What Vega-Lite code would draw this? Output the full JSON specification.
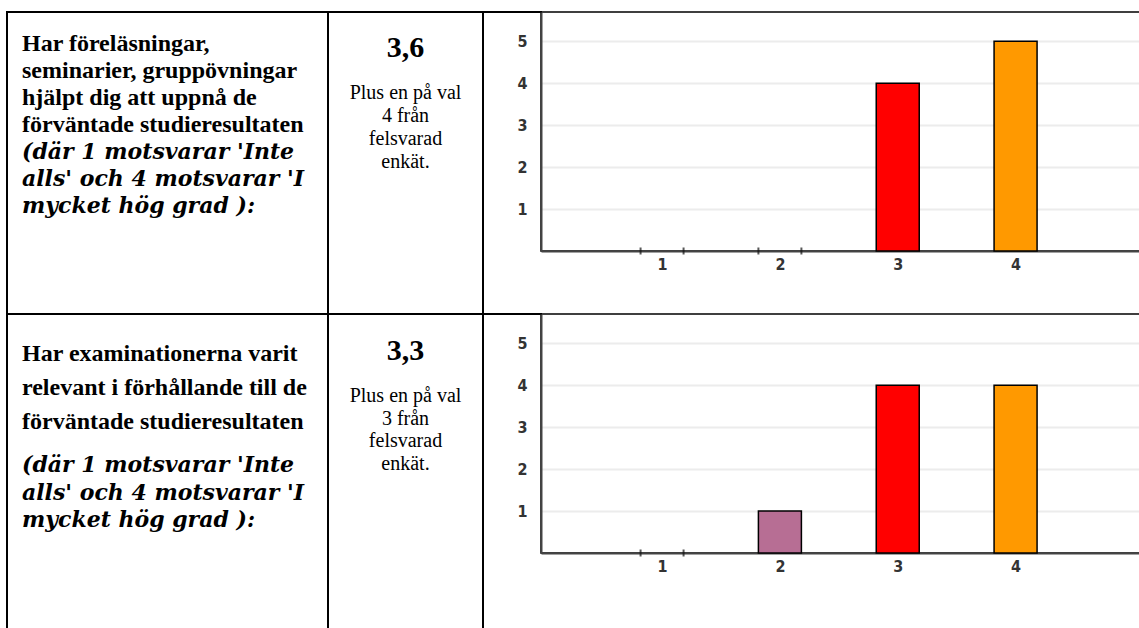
{
  "$schema": "https://vega.github.io/schema/vega-lite/v6.json",
  "padding": {"left": 6, "top": 11, "right": 0, "bottom": 0},
  "background": "white",
  "columns": 4,
  "spacing": 0,
  "bounds": "flush",
  "config": {
    "view": {"stroke": "black", "strokeWidth": 2},
    "axis": {
      "domainColor": "#444", "domainWidth": 2, "ticks": false, "tickSize": 0, "title": null,
      "labelFlush": false, "labelFont": "Liberation Sans Narrow, DejaVu Sans Condensed, sans-serif",
      "labelFontSize": 16, "labelFontWeight": "bold", "labelColor": "#333"
    }
  },
  "concat": [
    {
      "width": 321,
      "height": 302,
      "data": {"values": [
        {"line": 1, "block": "fraga", "text": "Har föreläsningar,"},
        {"line": 2, "block": "fraga", "text": "seminarier, gruppövningar"},
        {"line": 3, "block": "fraga", "text": "hjälpt dig att uppnå de"},
        {"line": 4, "block": "fraga", "text": "förväntade studieresultaten"},
        {"line": 5, "block": "skala", "text": "(där 1 motsvarar 'Inte"},
        {"line": 6, "block": "skala", "text": "alls' och 4 motsvarar 'I"},
        {"line": 7, "block": "skala", "text": "mycket hög grad ):"}
      ]},
      "encoding": {
        "x": {"datum": 0, "type": "quantitative", "scale": {"domain": [0, 1], "range": [15, 321]}, "axis": null},
        "y": {"field": "line", "type": "quantitative", "scale": {"domain": [1, 7], "range": [39, 201], "zero": false, "nice": false}, "axis": null},
        "text": {"field": "text"}
      },
      "layer": [
        {"transform": [{"filter": "datum.block === 'fraga'"}],
         "mark": {"type": "text", "align": "left", "baseline": "alphabetic", "font": "Liberation Serif", "fontSize": 24, "fontWeight": "bold", "color": "black"}},
        {"transform": [{"filter": "datum.block === 'skala'"}],
         "mark": {"type": "text", "align": "left", "baseline": "alphabetic", "font": "DejaVu Serif", "fontSize": 22, "fontWeight": "bold", "fontStyle": "italic", "color": "black"}}
      ]
    },
    {
      "width": 155,
      "height": 302,
      "data": {"values": [
        {"line": 0, "kind": "medel", "text": "3,6"},
        {"line": 1, "kind": "not", "text": "Plus en på val"},
        {"line": 2, "kind": "not", "text": "4 från"},
        {"line": 3, "kind": "not", "text": "felsvarad"},
        {"line": 4, "kind": "not", "text": "enkät."}
      ]},
      "encoding": {
        "x": {"datum": 0.5, "type": "quantitative", "scale": {"domain": [0, 1]}, "axis": null},
        "y": {"field": "line", "type": "quantitative", "scale": {"domain": [0, 1, 4], "range": [45, 87, 156], "zero": false, "nice": false}, "axis": null},
        "text": {"field": "text"}
      },
      "layer": [
        {"transform": [{"filter": "datum.kind === 'medel'"}],
         "mark": {"type": "text", "align": "center", "baseline": "alphabetic", "font": "Liberation Serif", "fontSize": 30, "fontWeight": "bold", "color": "black"}},
        {"transform": [{"filter": "datum.kind === 'not'"}],
         "mark": {"type": "text", "align": "center", "baseline": "alphabetic", "font": "Liberation Serif", "fontSize": 20, "color": "black"}}
      ]
    },
    {
      "width": 58,
      "height": 0.01,
      "view": {"stroke": "black", "strokeWidth": 2},
      "data": {"values": [{}]},
      "mark": {"type": "point", "opacity": 0, "size": 0}
    },
    {
      "width": 600,
      "height": 239,
      "view": {"stroke": "black", "strokeWidth": 1.5},
      "data": {"values": [
        {"alt": 1, "antal": 0},
        {"alt": 2, "antal": 0},
        {"alt": 3, "antal": 4},
        {"alt": 4, "antal": 5}
      ]},
      "encoding": {
        "x": {"field": "alt", "type": "quantitative",
              "scale": {"domain": [0.015, 5.022], "nice": false, "zero": false},
              "axis": {"values": [1, 2, 3, 4], "orient": "bottom", "grid": false, "labelPadding": 5}},
        "y": {"field": "antal", "type": "quantitative",
              "scale": {"domain": [0, 5.7], "nice": false, "zero": false},
              "axis": {"values": [1, 2, 3, 4, 5], "orient": "left", "grid": true, "gridColor": "#ececec", "gridWidth": 2, "labelPadding": 14}}
      },
      "layer": [
        {"transform": [{"filter": "datum.antal > 0"}],
         "mark": {"type": "bar", "width": 43, "stroke": "black", "strokeWidth": 1.5},
         "encoding": {"color": {"field": "alt", "type": "nominal", "scale": {"domain": [1, 2, 3, 4], "range": ["#5b7fc7", "#b76e94", "#ff0000", "#ff9900"]}, "legend": null}}},
        {"transform": [{"filter": "datum.antal === 0"}],
         "mark": {"type": "tick", "orient": "vertical", "xOffset": -21.5, "size": 7, "thickness": 2, "color": "#111"}},
        {"transform": [{"filter": "datum.antal === 0"}],
         "mark": {"type": "tick", "orient": "vertical", "xOffset": 21.5, "size": 7, "thickness": 2, "color": "#111"}}
      ]
    },
    {
      "width": 321,
      "height": 318,
      "data": {"values": [
        {"line": 1, "block": "fraga", "text": "Har examinationerna varit"},
        {"line": 2, "block": "fraga", "text": "relevant i förhållande till de"},
        {"line": 3, "block": "fraga", "text": "förväntade studieresultaten"},
        {"line": 4, "block": "skala", "text": "(där 1 motsvarar 'Inte"},
        {"line": 5, "block": "skala", "text": "alls' och 4 motsvarar 'I"},
        {"line": 6, "block": "skala", "text": "mycket hög grad ):"}
      ]},
      "encoding": {
        "x": {"datum": 0, "type": "quantitative", "scale": {"domain": [0, 1], "range": [15, 321]}, "axis": null},
        "y": {"field": "line", "type": "quantitative", "scale": {"domain": [1, 3, 4, 6], "range": [47, 115, 158, 213], "zero": false, "nice": false}, "axis": null},
        "text": {"field": "text"}
      },
      "layer": [
        {"transform": [{"filter": "datum.block === 'fraga'"}],
         "mark": {"type": "text", "align": "left", "baseline": "alphabetic", "font": "Liberation Serif", "fontSize": 24, "fontWeight": "bold", "color": "black"}},
        {"transform": [{"filter": "datum.block === 'skala'"}],
         "mark": {"type": "text", "align": "left", "baseline": "alphabetic", "font": "DejaVu Serif", "fontSize": 22, "fontWeight": "bold", "fontStyle": "italic", "color": "black"}}
      ]
    },
    {
      "width": 155,
      "height": 318,
      "data": {"values": [
        {"line": 0, "kind": "medel", "text": "3,3"},
        {"line": 1, "kind": "not", "text": "Plus en på val"},
        {"line": 2, "kind": "not", "text": "3 från"},
        {"line": 3, "kind": "not", "text": "felsvarad"},
        {"line": 4, "kind": "not", "text": "enkät."}
      ]},
      "encoding": {
        "x": {"datum": 0.5, "type": "quantitative", "scale": {"domain": [0, 1]}, "axis": null},
        "y": {"field": "line", "type": "quantitative", "scale": {"domain": [0, 1, 4], "range": [46, 88, 156], "zero": false, "nice": false}, "axis": null},
        "text": {"field": "text"}
      },
      "layer": [
        {"transform": [{"filter": "datum.kind === 'medel'"}],
         "mark": {"type": "text", "align": "center", "baseline": "alphabetic", "font": "Liberation Serif", "fontSize": 30, "fontWeight": "bold", "color": "black"}},
        {"transform": [{"filter": "datum.kind === 'not'"}],
         "mark": {"type": "text", "align": "center", "baseline": "alphabetic", "font": "Liberation Serif", "fontSize": 20, "color": "black"}}
      ]
    },
    {
      "width": 58,
      "height": 0.01,
      "view": {"stroke": "black", "strokeWidth": 2},
      "data": {"values": [{}]},
      "mark": {"type": "point", "opacity": 0, "size": 0}
    },
    {
      "width": 600,
      "height": 239,
      "view": {"stroke": "black", "strokeWidth": 1.5},
      "data": {"values": [
        {"alt": 1, "antal": 0},
        {"alt": 2, "antal": 1},
        {"alt": 3, "antal": 4},
        {"alt": 4, "antal": 4}
      ]},
      "encoding": {
        "x": {"field": "alt", "type": "quantitative",
              "scale": {"domain": [0.015, 5.022], "nice": false, "zero": false},
              "axis": {"values": [1, 2, 3, 4], "orient": "bottom", "grid": false, "labelPadding": 5}},
        "y": {"field": "antal", "type": "quantitative",
              "scale": {"domain": [0, 5.7], "nice": false, "zero": false},
              "axis": {"values": [1, 2, 3, 4, 5], "orient": "left", "grid": true, "gridColor": "#ececec", "gridWidth": 2, "labelPadding": 14}}
      },
      "layer": [
        {"transform": [{"filter": "datum.antal > 0"}],
         "mark": {"type": "bar", "width": 43, "stroke": "black", "strokeWidth": 1.5},
         "encoding": {"color": {"field": "alt", "type": "nominal", "scale": {"domain": [1, 2, 3, 4], "range": ["#5b7fc7", "#b76e94", "#ff0000", "#ff9900"]}, "legend": null}}},
        {"transform": [{"filter": "datum.antal === 0"}],
         "mark": {"type": "tick", "orient": "vertical", "xOffset": -21.5, "size": 7, "thickness": 2, "color": "#111"}},
        {"transform": [{"filter": "datum.antal === 0"}],
         "mark": {"type": "tick", "orient": "vertical", "xOffset": 21.5, "size": 7, "thickness": 2, "color": "#111"}}
      ]
    }
  ]
}
